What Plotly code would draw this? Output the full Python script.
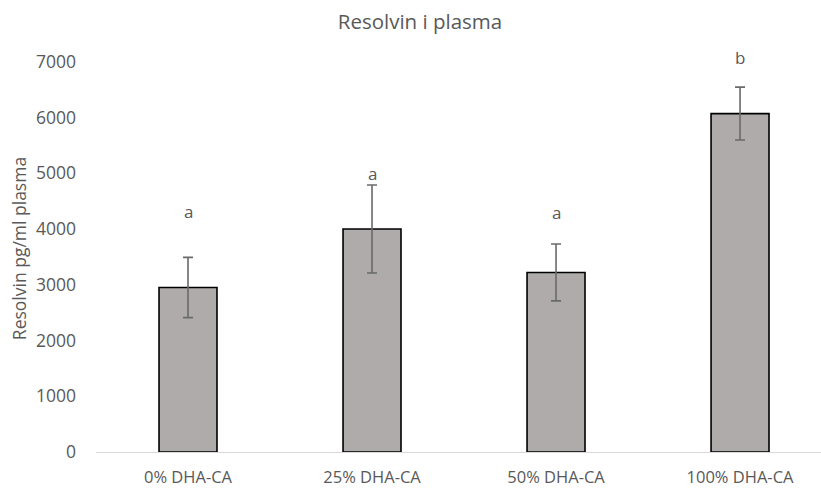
import plotly.graph_objects as go

categories = ["0% DHA-CA", "25% DHA-CA", "50% DHA-CA", "100% DHA-CA"]
values = [2950, 4000, 3220, 6070]
errors = [540, 790, 510, 475]
letters = ["a", "a", "a", "b"]
letter_y = [4310, 4990, 4300, 7070]
y_ticks = [0, 1000, 2000, 3000, 4000, 5000, 6000, 7000]

FONT = "Open Sans"
TXT = "#595959"

fig = go.Figure()
fig.add_trace(go.Bar(
    x=categories, y=values, width=0.315,
    marker=dict(color="#AFABAB", line=dict(color="#000000", width=1.6)),
    error_y=dict(type="data", array=errors, visible=True,
                 color="#6A6A6A", thickness=1.6, width=5),
))

for c, t, ly in zip(categories, letters, letter_y):
    fig.add_annotation(x=c, y=ly, text=t, showarrow=False,
                       font=dict(family=FONT, size=17, color=TXT),
                       xanchor="center", yanchor="middle")

fig.update_layout(
    width=821, height=488,
    margin=dict(l=96, r=0, t=45, b=36, autoexpand=False),
    paper_bgcolor="white", plot_bgcolor="white",
    showlegend=False,
    title=dict(text="Resolvin i plasma", x=420/821, xanchor="center",
               y=1 - 22/488, yanchor="middle", yref="container",
               font=dict(family=FONT, size=20.5, color=TXT)),
    xaxis=dict(range=[-0.5, 3.44], showgrid=False, zeroline=False,
               showline=True, linecolor="#D9D9D9", linewidth=1.2,
               ticks="", tickfont=dict(family=FONT, size=16.5, color=TXT),
               ticklabelstandoff=10, automargin=False),
    yaxis=dict(range=[0, 7300], tickvals=y_ticks, showgrid=False,
               zeroline=False, showline=False, ticks="",
               tickfont=dict(family=FONT, size=17.5, color=TXT),
               ticklabelstandoff=19, automargin=False,
               title=dict(text="Resolvin pg/ml plasma", standoff=4,
                          font=dict(family=FONT, size=17.5, color=TXT))),
)

fig.write_html("out.html", config={"displayModeBar": False})

with open("out.html", "r", encoding="utf-8") as f:
    html = f.read()
html = html.replace("<head>", "<head><style>html,body{margin:0;padding:0;overflow:hidden;}</style>", 1)
with open("out.html", "w", encoding="utf-8") as f:
    f.write(html)
